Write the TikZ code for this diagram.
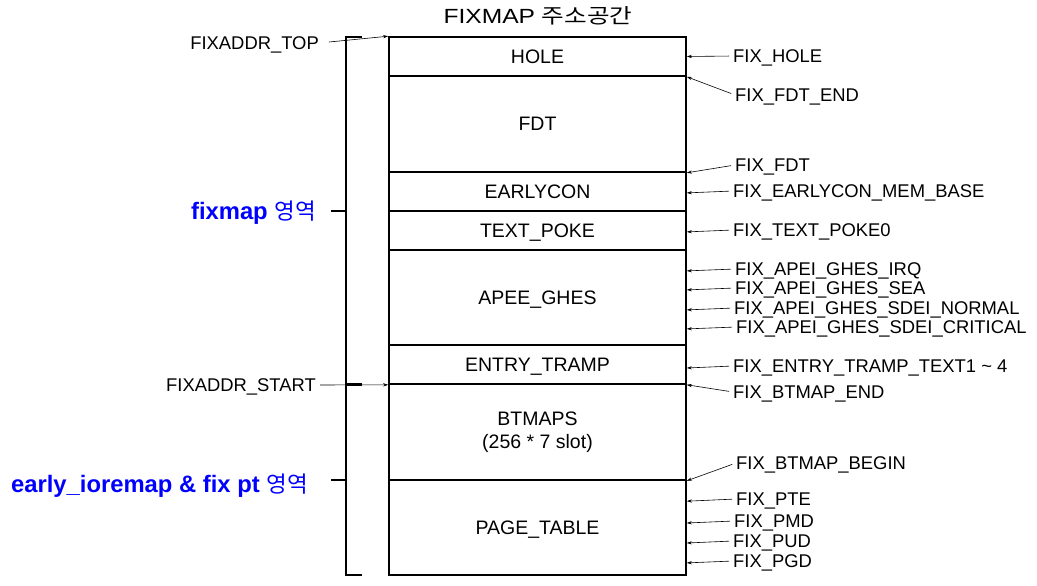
\documentclass[tikz,border=0pt]{standalone}
\usepackage{fontspec}
\setmainfont{Liberation Sans}
\newfontfamily\kr{Noto Sans CJK KR}
\usetikzlibrary{arrows.meta,calc}
\definecolor{lblue}{RGB}{0,0,255}
\begin{document}
\begin{tikzpicture}[x=1pt,y=-1pt,
  cell/.style={draw,line width=1.6pt,minimum width=297pt,inner sep=0pt,align=center,font=\fontsize{19.5}{22.5}\selectfont},
  one/.style={text height=14pt,text depth=0pt},
  lbl/.style={inner sep=0pt,font=\fontsize{18.4}{20}\selectfont},
  rl/.style={lbl,anchor=base west},
  ll/.style={lbl,anchor=base east},
  ptr/.style={line width=0.6pt,shorten <=4pt,-{Stealth[length=5pt,width=3.2pt]}},
  area/.style={inner sep=0pt,anchor=base east,text=lblue,font=\fontsize{23.8}{26}\selectfont\bfseries},
  brk/.style={line width=1.6pt}]
\useasboundingbox (0,0) rectangle (1037,586);
% title
\node[inner sep=0pt,anchor=base,font=\fontsize{20.5}{24}\selectfont] (title) at (538,23.5) {\scalebox{1.2}[1]{FIXMAP {\kr 주소공간}}};
% cells
\node[cell,one,minimum height=39pt] (hole) at (537.5,56.5) {HOLE};
\node[cell,one,minimum height=96pt] (fdt) at (537.5,124) {FDT};
\node[cell,one,minimum height=39pt] (early) at (537.5,191.5) {EARLYCON};
\node[cell,one,minimum height=39pt] (poke) at (537.5,230.5) {TEXT\_POKE};
\node[cell,one,minimum height=95pt] (apee) at (537.5,297.5) {APEE\_GHES};
\node[cell,one,minimum height=39pt] (entry) at (537.5,364.5) {ENTRY\_TRAMP};
\node[cell,minimum height=96pt] (btm) at (537.5,432) {BTMAPS\\(256 * 7 slot)};
\node[cell,one,minimum height=95pt] (pt) at (537.5,527.5) {PAGE\_TABLE};
% bracket
\draw[brk] (362,37) -- (346,37) -- (346,575) -- (362,575);
\draw[brk] (331,211) -- (346,211);
\draw[brk] (331,480) -- (346,480);
\draw[line width=3pt] (346,384) -- (362,384);
% area labels
\node[area] (fixarea) at (316,219) {fixmap {\kr\mdseries\fontsize{22.5}{26}\selectfont 영역}};
\node[area] (iorarea) at (308,492) {early\_ioremap \& fix pt {\kr\mdseries\fontsize{22.5}{26}\selectfont 영역}};
% left labels
\node[ll] (top) at (319,49.5) {FIXADDR\_TOP};
\node[ll] (start) at (316,391.5) {FIXADDR\_START};
\draw[ptr,shorten <=10pt] ([yshift=6.5pt]top.base east) -- (hole.north west);
\draw[ptr] ([yshift=6.5pt]start.base east) -- (entry.south west);
% right labels
\node[rl] (fhole) at (733,62.5) {FIX\_HOLE};
\node[rl] (ffdtend) at (735,101.5) {FIX\_FDT\_END};
\node[rl] (ffdt) at (735,171.5) {FIX\_FDT};
\node[rl] (fearly) at (733,197.5) {FIX\_EARLYCON\_MEM\_BASE};
\node[rl] (fpoke) at (733,236.5) {FIX\_TEXT\_POKE0};
\node[rl] (firq) at (735,275.5) {FIX\_APEI\_GHES\_IRQ};
\node[rl] (fsea) at (735,294.5) {FIX\_APEI\_GHES\_SEA};
\node[rl] (fnorm) at (734,314.5) {FIX\_APEI\_GHES\_SDEI\_NORMAL};
\node[rl] (fcrit) at (736,333.5) {FIX\_APEI\_GHES\_SDEI\_CRITICAL};
\node[rl] (fentry) at (733,372.5) {FIX\_ENTRY\_TRAMP\_TEXT1 \textasciitilde{} 4};
\node[rl] (fbend) at (733,398.5) {FIX\_BTMAP\_END};
\node[rl] (fbbeg) at (736,469.5) {FIX\_BTMAP\_BEGIN};
\node[rl] (fpte) at (736,505.5) {FIX\_PTE};
\node[rl] (fpmd) at (734,527.5) {FIX\_PMD};
\node[rl] (fpud) at (733,547.5) {FIX\_PUD};
\node[rl] (fpgd) at (733,567.5) {FIX\_PGD};
\tikzset{tip/.style={yshift=6.5pt}}
\draw[ptr] ([tip]fhole.base west) -- (hole.east);
\draw[ptr] ([tip]ffdtend.base west) -- (hole.south east);
\draw[ptr] ([tip]ffdt.base west) -- (fdt.south east);
\draw[ptr] ([tip]fearly.base west) -- (early.east |- fearly.west);
\draw[ptr] ([tip]fpoke.base west) -- (poke.east |- fpoke.west);
\draw[ptr] ([tip]firq.base west) -- (apee.east |- firq.west);
\draw[ptr] ([tip]fsea.base west) -- (apee.east |- fsea.west);
\draw[ptr] ([tip]fnorm.base west) -- (apee.east |- fnorm.west);
\draw[ptr] ([tip]fcrit.base west) -- (apee.east |- fcrit.west);
\draw[ptr] ([tip]fentry.base west) -- (entry.east |- fentry.west);
\draw[ptr] ([tip]fbend.base west) -- (entry.south east);
\draw[ptr] ([tip]fbbeg.base west) -- (btm.south east);
\draw[ptr] ([tip]fpte.base west) -- ([yshift=-22pt]pt.north east);
\draw[ptr] ([tip]fpmd.base west) -- (pt.east |- fpmd.west);
\draw[ptr] ([tip]fpud.base west) -- (pt.east |- fpud.west);
\draw[ptr] ([tip]fpgd.base west) -- (pt.east |- fpgd.west);
\end{tikzpicture}
\end{document}
